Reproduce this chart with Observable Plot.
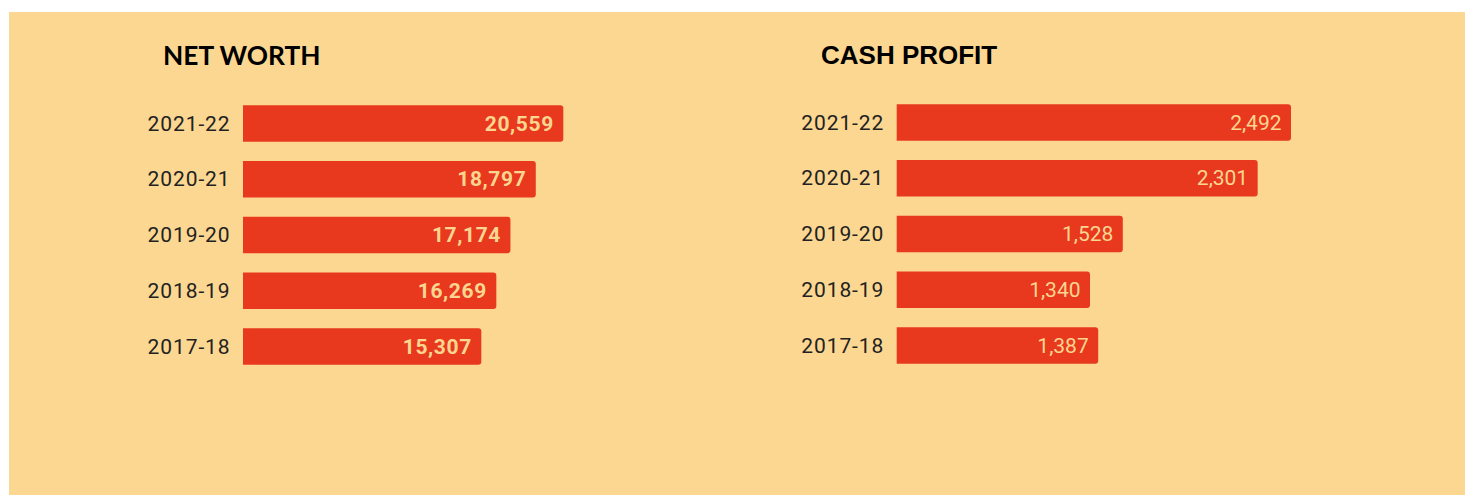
<!DOCTYPE html>
<html>
<head>
<meta charset="utf-8">
<script src="https://cdn.jsdelivr.net/npm/d3@7"></script>
<script src="https://cdn.jsdelivr.net/npm/@observablehq/plot@0.6"></script>
<style>
  html, body { margin: 0; padding: 0; background: #ffffff; }
  body { width: 1465px; height: 495px; position: relative; overflow: hidden; }
  #bg { position: absolute; left: 9px; top: 12px; width: 1456px; height: 483px; background: #fcd791; }
  .title { position: absolute; color: #000; font-weight: 700; line-height: 26px; white-space: nowrap; }
  #t1 { left: 163px; top: 42px; font-family: Lato, sans-serif; font-size: 26.3px; }
  #t2 { left: 821px; top: 42px; font-family: "Liberation Sans", Arial, sans-serif; font-size: 26px; }
  .chart { position: absolute; top: 0; }
  #c1 { left: 0px; }
  #c2 { left: 660px; }
  g[aria-label="y-axis tick label"] text { letter-spacing: 0.9px; }
  #c1 g[aria-label="text"] text { letter-spacing: 0.6px; }
</style>
</head>
<body>
<div id="bg"></div>
<div class="title" id="t1">NET WORTH</div>
<div class="title" id="t2">CASH PROFIT</div>
<div class="chart" id="c1"></div>
<div class="chart" id="c2"></div>
<script>
const years = ["2021-22", "2020-21", "2019-20", "2018-19", "2017-18"];
const netWorth = [20559, 18797, 17174, 16269, 15307];
const cashProfit = [2492, 2301, 1528, 1340, 1387];

const barColor = "#e8391e";
const labelColor = "#fcd690";
const fmt = d3.format(",");

const nwData = years.map((y, i) => ({year: y, value: netWorth[i]}));
const cpData = years.map((y, i) => ({year: y, value: cashProfit[i]}));

function chart({data, width, marginLeft, marginTop, xDomain, xRange, base, bold}) {
  const height = 420;
  return Plot.plot({
    width, height,
    marginLeft, marginTop, marginBottom: height - marginTop - 298, marginRight: 0,
    style: {background: "transparent", fontFamily: "Roboto, sans-serif", overflow: "visible"},
    x: {domain: xDomain, range: xRange, axis: null},
    y: {domain: years, padding: 0.345, round: false, label: null},
    marks: [
      Plot.barX(data, {x1: base, x2: "value", y: "year", fill: barColor, rx: 3, insetLeft: -6, clip: true}),
      Plot.axisY({tickSize: 0, tickPadding: 13, fontSize: 21, fill: "#222", label: null}),
      Plot.text(data, {x: "value", y: "year", text: d => fmt(d.value), textAnchor: "end", dx: -10,
        fill: labelColor, fontSize: 21, fontWeight: bold ? "bold" : "normal"})
    ]
  });
}

document.getElementById("c1").append(chart({
  data: nwData, width: 700, marginLeft: 243, marginTop: 86,
  xDomain: [0, 20559], xRange: [242.3, 563.3], base: 0, bold: true
}));
document.getElementById("c2").append(chart({
  data: cpData, width: 805, marginLeft: 236.7, marginTop: 85,
  xDomain: [232, 2492], xRange: [236.7, 631], base: 232, bold: false
}));
</script>
</body>
</html>
